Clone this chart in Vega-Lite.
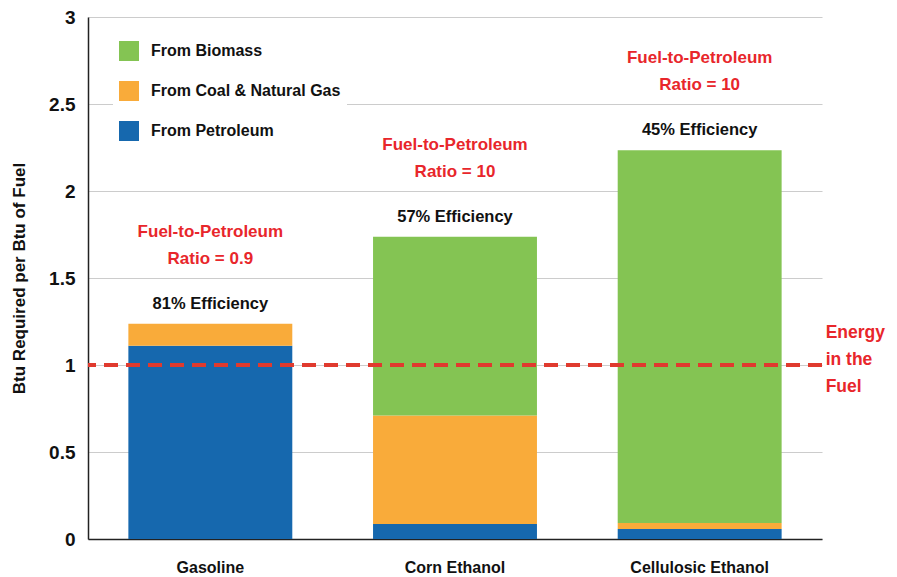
{
  "$schema": "https://vega.github.io/schema/vega-lite/v6.json",
  "width": 734,
  "height": 522,
  "autosize": {"type": "none"},
  "padding": {"left": 88, "top": 17, "right": 75, "bottom": 38},
  "background": "white",
  "config": {
    "font": "Liberation Sans, Arial, sans-serif",
    "view": {"stroke": null}
  },
  "datasets": {
    "bars": [
      {"fuel": "Gasoline", "source": "From Petroleum", "btu": 1.11},
      {"fuel": "Gasoline", "source": "From Coal & Natural Gas", "btu": 0.127},
      {"fuel": "Gasoline", "source": "From Biomass", "btu": 0},
      {"fuel": "Corn Ethanol", "source": "From Petroleum", "btu": 0.086},
      {"fuel": "Corn Ethanol", "source": "From Coal & Natural Gas", "btu": 0.624},
      {"fuel": "Corn Ethanol", "source": "From Biomass", "btu": 1.027},
      {"fuel": "Cellulosic Ethanol", "source": "From Petroleum", "btu": 0.057},
      {"fuel": "Cellulosic Ethanol", "source": "From Coal & Natural Gas", "btu": 0.035},
      {"fuel": "Cellulosic Ethanol", "source": "From Biomass", "btu": 2.142}
    ],
    "fuels": [
      {"fuel": "Gasoline", "eff": "81% Efficiency", "ratio": "Ratio = 0.9"},
      {"fuel": "Corn Ethanol", "eff": "57% Efficiency", "ratio": "Ratio = 10"},
      {"fuel": "Cellulosic Ethanol", "eff": "45% Efficiency", "ratio": "Ratio = 10"}
    ]
  },
  "data": {"name": "bars"},
  "encoding": {
    "x": {
      "field": "fuel", "type": "nominal",
      "sort": ["Gasoline", "Corn Ethanol", "Cellulosic Ethanol"],
      "scale": {"paddingInner": 0.33, "paddingOuter": 0.165},
      "axis": {
        "title": null, "labelAngle": 0, "ticks": false, "labelPadding": 20,
        "labelFontSize": 16, "labelFontWeight": "bold", "labelColor": "#111",
        "domainColor": "#222", "domainWidth": 1.5, "grid": false
      }
    }
  },
  "layer": [
    {
      "mark": {"type": "bar"},
      "encoding": {
        "y": {
          "field": "btu", "type": "quantitative", "stack": "zero",
          "scale": {"domain": [0, 3], "nice": false},
          "axis": {
            "title": "Btu Required per Btu of Fuel",
            "titleFontSize": 17, "titleFontWeight": "bold", "titleColor": "#111",
            "titlePadding": 20,
            "values": [0, 0.5, 1, 1.5, 2, 2.5, 3], "format": "~g",
            "ticks": false, "labelPadding": 13,
            "labelFontSize": 19, "labelFontWeight": "bold", "labelColor": "#111",
            "domainColor": "#222", "domainWidth": 1.5,
            "grid": true, "gridColor": "#cccccc", "gridWidth": 1.2
          }
        },
        "color": {
          "field": "source", "type": "nominal",
          "scale": {
            "domain": ["From Biomass", "From Coal & Natural Gas", "From Petroleum"],
            "range": ["#84c453", "#f9ab3a", "#1668ae"]
          },
          "legend": {
            "title": null, "orient": "none", "legendX": 25, "legendY": 18,
            "symbolType": "square", "symbolSize": 400, "symbolStrokeWidth": 0,
            "symbolOpacity": 1,
            "labelFontSize": 16, "labelFontWeight": "bold", "labelColor": "#111",
            "labelOffset": 12, "rowPadding": 20, "labelLimit": 300,
            "fillColor": "white", "padding": 6
          }
        },
        "order": {"field": "source", "sort": "descending"}
      }
    },
    {
      "mark": {"type": "rule", "color": "#e03a2e", "strokeWidth": 3, "strokeDash": [14, 8]},
      "encoding": {"y": {"datum": 1, "type": "quantitative"}, "x": {}}
    },
    {
      "transform": [
        {"aggregate": [{"op": "sum", "field": "btu", "as": "total"}], "groupby": ["fuel"]},
        {"lookup": "fuel", "from": {"data": {"name": "fuels"}, "key": "fuel", "fields": ["eff", "ratio"]}}
      ],
      "layer": [
        {
          "mark": {"type": "text", "dy": -20, "baseline": "middle", "fontSize": 16.5, "fontWeight": "bold", "color": "#111"},
          "encoding": {"y": {"field": "total", "type": "quantitative"}, "text": {"field": "eff"}}
        },
        {
          "mark": {"type": "text", "dy": -92, "baseline": "middle", "fontSize": 17, "fontWeight": "bold", "color": "#e8262b", "text": "Fuel-to-Petroleum"},
          "encoding": {"y": {"field": "total", "type": "quantitative"}}
        },
        {
          "mark": {"type": "text", "dy": -65, "baseline": "middle", "fontSize": 17, "fontWeight": "bold", "color": "#e8262b"},
          "encoding": {"y": {"field": "total", "type": "quantitative"}, "text": {"field": "ratio"}}
        }
      ]
    },
    {
      "data": {"values": [{"fuel": "Cellulosic Ethanol", "label": ["Energy", "in the", "Fuel"]}]},
      "mark": {"type": "text", "align": "left", "baseline": "middle", "dx": 126, "dy": -32, "lineHeight": 27, "fontSize": 17.5, "fontWeight": "bold", "color": "#e8262b"},
      "encoding": {"y": {"datum": 1, "type": "quantitative"}, "text": {"field": "label"}}
    }
  ]
}
